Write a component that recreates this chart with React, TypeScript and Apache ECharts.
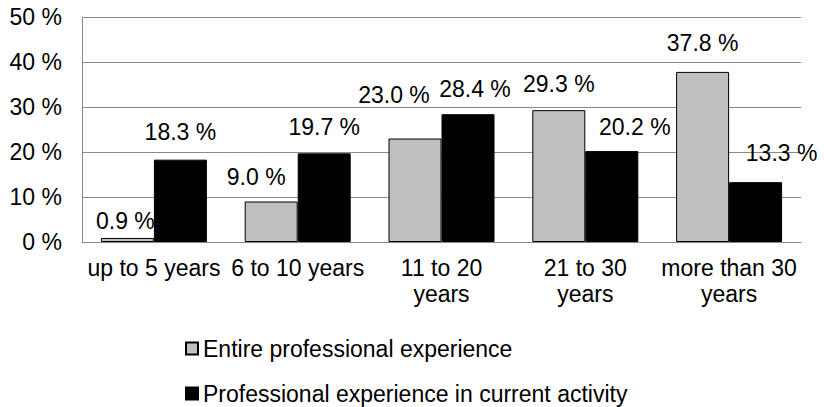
import React, { useEffect, useRef } from "react";
import * as echarts from "echarts";

// ---- data ----
const categories = [
  "up to 5 years",
  "6 to 10 years",
  "11 to 20\nyears",
  "21 to 30\nyears",
  "more than 30\nyears",
];
const seriesNames = [
  "Entire professional experience",
  "Professional experience in current activity",
];
const entireExperience = [0.9, 9.0, 23.0, 29.3, 37.8];
const currentActivity = [18.3, 19.7, 28.4, 20.2, 13.3];
const yMin = 0;
const yMax = 50;
const yStep = 10;

// ---- label nudges (style only) ----
const entireLabelShift = [
  [-2, 9],
  [-15, 1],
  [-21, -18],
  [0, -1],
  [0, -3],
];
const currentLabelShift = [
  [0, -2],
  [0, -1],
  [7, 0],
  [23, 1],
  [26, -4],
];

const FONT = "'Liberation Sans', Arial, sans-serif";
const FS = 23;

export default function App() {
  const ref = useRef<HTMLDivElement>(null);

  useEffect(() => {
    document.body.style.margin = "0";
    if (!ref.current) return;
    const chart = echarts.init(ref.current, undefined, { renderer: "svg" });

    const labelBase = {
      show: true,
      position: "top" as const,
      distance: 14,
      color: "#000",
      fontSize: FS,
      fontFamily: FONT,
      formatter: (p: any) => Number(p.value).toFixed(1) + " %",
    };

    chart.setOption({
      animation: false,
      backgroundColor: "#fff",
      textStyle: { fontFamily: FONT },
      grid: { left: 82, right: 23, top: 17, bottom: 165, containLabel: false },
      legend: {
        orient: "vertical",
        left: 185,
        top: 337,
        width: 600,
        height: 100,
        padding: 0,
        itemWidth: 12,
        itemHeight: 12,
        itemGap: 22,
        icon: "rect",
        textStyle: { color: "#000", fontSize: FS, fontFamily: FONT },
        data: seriesNames,
      },
      xAxis: {
        type: "category",
        data: categories,
        axisLine: { show: true, lineStyle: { color: "#898989", width: 1 } },
        axisTick: { show: false },
        axisLabel: {
          interval: 0,
          margin: 13,
          color: "#000",
          fontSize: FS,
          fontFamily: FONT,
          lineHeight: 26,
        },
      },
      yAxis: {
        type: "value",
        min: yMin,
        max: yMax,
        interval: yStep,
        axisLine: { show: true, lineStyle: { color: "#898989", width: 1 } },
        axisTick: { show: false },
        splitLine: { show: true, lineStyle: { color: "#898989", width: 1 } },
        axisLabel: {
          margin: 20,
          color: "#000",
          fontSize: FS,
          fontFamily: FONT,
          formatter: "{value} %",
        },
      },
      series: [
        {
          name: seriesNames[0],
          type: "bar",
          barWidth: 53,
          barGap: "0%",
          itemStyle: { color: "#BFBFBF", borderColor: "#000", borderWidth: 1 },
          label: labelBase,
          data: entireExperience.map((v, i) => ({
            value: v,
            label: { offset: entireLabelShift[i] },
          })),
        },
        {
          name: seriesNames[1],
          type: "bar",
          barWidth: 53,
          barGap: "0%",
          itemStyle: { color: "#000", borderColor: "#000", borderWidth: 1 },
          label: labelBase,
          data: currentActivity.map((v, i) => ({
            value: v,
            label: { offset: currentLabelShift[i] },
          })),
        },
      ],
    });

    return () => chart.dispose();
  }, []);

  return <div ref={ref} style={{ width: 824, height: 407 }} />;
}
